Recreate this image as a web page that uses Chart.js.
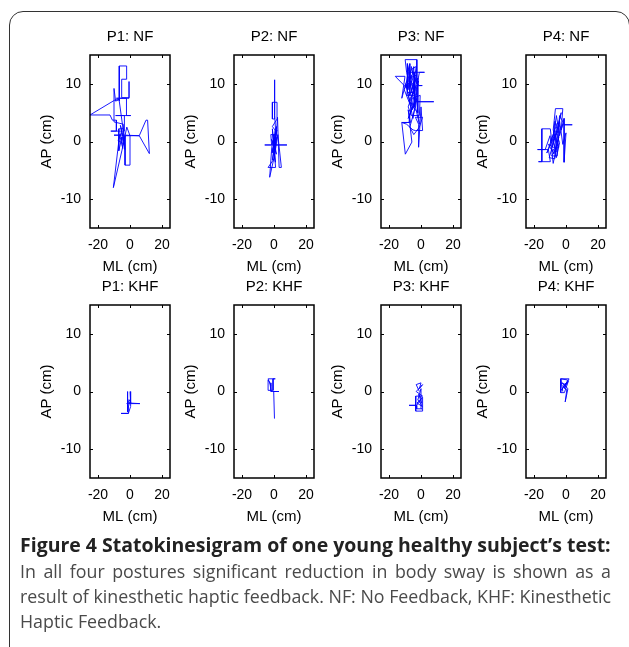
<!DOCTYPE html>
<html lang="en">
<head>
<meta charset="UTF-8" />
<title>Statokinesigram</title>
<script src="https://cdn.jsdelivr.net/npm/chart.js"></script>
<style>
  html, body { margin: 0; padding: 0; background: #fff; }
  body { width: 629px; height: 647px; position: relative; overflow: hidden; }
  .frame {
    position: absolute; left: 9px; top: 11px; width: 621px; height: 680px;
    border: 1.5px solid #333; border-radius: 14px; box-sizing: border-box;
  }
  canvas { position: absolute; }
  .caption {
    position: absolute; left: 20px; top: 531px;
    font-family: 'Open Sans', sans-serif; color: #4a4a4a; white-space: nowrap;
  }
  .caption div { line-height: 25px; font-size: 16px; }
  .caption .head { font-weight: bold; color: #222; line-height: 28px; }
</style>
</head>
<body>
  <div class="frame"></div>

  <!-- 8 sway plots -->
  <canvas id="c0" width="142" height="255"></canvas>
  <canvas id="c1" width="142" height="255"></canvas>
  <canvas id="c2" width="142" height="255"></canvas>
  <canvas id="c3" width="142" height="255"></canvas>
  <canvas id="c4" width="142" height="255"></canvas>
  <canvas id="c5" width="142" height="255"></canvas>
  <canvas id="c6" width="142" height="255"></canvas>
  <canvas id="c7" width="142" height="255"></canvas>

  <div class="caption">
    <div class="head">Figure 4 Statokinesigram of one young healthy subject’s test:</div>
    <div>In all four postures significant reduction in body sway is shown as a</div>
    <div>result of kinesthetic haptic feedback. NF: No Feedback, KHF: Kinesthetic</div>
    <div>Haptic Feedback.</div>
  </div>

<script>
  // ---- data (cm) ----
  const titles = ['P1: NF', 'P2: NF', 'P3: NF', 'P4: NF', 'P1: KHF', 'P2: KHF', 'P3: KHF', 'P4: KHF'];
  const xTicks = [-20, 0, 20];
  const yTicks = [-10, 0, 10];

  const p1nfX = [-4, -4, -7, -7, -5, -3.2, -4.2, -10, -10, -9, -6.5, -9.4, -25, -12.5, -11, -8.5, -8.5, -12, -3.5, -3.5, -9, 0.5, -2.2, -2.2, -8.5, -0.6, -0.6, -0.6, -5.2, -5.2, -2.1, -2.1, -6.7, -6.7, -4.5, -6, -10, -3, 5.8, 10, 11, 12.1, 5.8, -3.1, -3.1, 0, 0, -2, -5, -10.4, -6.5, -4.5, -5.5, -4, -6, -3.5, -7.5, -5];
  const p1nfY = [0, 2.2, 2.2, -1.6, 0.8, -1.4, 3, 3.4, 9.2, 7, 7.3, 7.2, 4.6, 4.6, 3.7, 3.7, 1.8, 1.8, 1.8, 4.5, 4.5, 4.5, 4.5, 7.5, 7.5, 7.5, 10.4, 7.6, 7.6, 10.8, 10.8, 13.1, 13.1, 7, 2.5, 1.1, 1.1, 1.1, 1, 3.7, 3.7, -2.1, 1, 1, -4.1, -4.1, 1, 2.5, -1.5, -8, 1.2, -1.2, 0.8, 0.5, 2.8, -0.5, 0.2, 1.5];

  const p2nfX = [0.5, 0.6, -1, 1.9, 1.9, -1, -1, 0.4, 0.4, 0.4, 1.2, -2, -1.5, -5.8, 8.1, 1, 2.2, 3.2, 4.6, 2.4, 0, -3.7, 1, -1, 0.2, -2.7, -1.4, 1.6, 0.4, -0.6, 1.3, -1, 1.1, -0.3, 2, 0.2, 0.6, -1.2, 1.8, -0.8, 0.9, -0.2, 1.5, -1.6, 0.3];
  const p2nfY = [0, 2, 2.6, 3.9, 6.8, 6.8, 3.9, 3.9, 10.7, 4.5, 1.2, 1.2, -0.6, -0.6, -0.6, -0.6, 4.2, -4.5, -4.5, 1.2, -3, -4.5, -4.5, 2.2, -2.6, -6.2, -1, 2.6, -1.6, 1.2, 0.2, -3.2, 1.6, -0.4, 0.8, -1.2, 0.3, -2, 2, -1.4, -3.6, 0.6, -2.2, 0.4, -0.8];

  const p3nfX = [-5, -7, -9, -9.9, -2.6, -2.6, -5, -5.7, 2.2, -1, -3, -6, -8, -16.1, -10, -12, -9, -7, -7, -4, -1, 0.8, -2, -4, -3.6, 8, -2, -5, -8, -6, -1, -0.5, -5.5, -7.5, -12, -6.5, -8, -5.7, -9.8, -12, -9, -5, -3.5, 1, 0, -1.5, -1.5, -3.5, 1, -1, -4.5, -7, -4, -6, -3, -7, -9, -4, -6, -10, -6, -3, -5,
                 -8.5, -8.5, -4.5, -4.5, -7, -2, -2, -6.5, -9.5, -5, -3, -1, -6, -8, -4, -4, -7.5, -1.5, -5.5, -10.5, -6, -2.5, -8, -5];
  const p3nfY = [8, 10, 12, 14.2, 14.2, 10, 12, 12, 12, 12, 9, 13, 9, 11.3, 11.3, 7.5, 10.5, 13.5, 8, 10.5, 9.7, 9.7, 9.7, 6, 6.9, 6.9, 6.9, 8.5, 6, 4.5, 4.5, 8, 7.5, 3.3, 3.3, 3.3, 5.5, -0.1, -2.2, 3.3, 3, 2, 1.9, 1.9, 6, -1, 3, 4.2, 4.2, 2.5, 1.2, 2.5, 5.5, 7.2, 11.5, 11, 8, 8, 10.5, 9.5, 12.5, 13, 9,
                 13.5, 8.5, 8.5, 13, 9.5, 11, 5, 6.5, 10, 4, 7.5, 3, 9, 12, 12, 6, 7, 10.5, 5.5, 9, 11.5, 8, 4, 6];

  const p4nfX = [-6, -8, -6.6, -2, -3, -2, 3.9, -1, -4, -5, -7, -8.5, -9.8, -15.1, -15.1, -17.2, -9.8, -11, -17.8, -13, -10, -8, -6, -7.5, -6, -4, -1.2, -1.2, 0, -2, -4, -5.5, -9, -5, -7, -3, -5, -8, -6,
                 -9, -4.5, -6.5, -10.5, -7, -3.5, -5.5, -12, -8, -6, -4, -7, -9.5, -5, -6.5, -11, -7.5, -4.5, -6];
  const p4nfY = [0, 2, 5.7, 5.7, 2, 2.9, 2.9, 2.9, 4.5, 1.5, 3.5, -1, 2.2, 2.2, -3.5, -3.5, -3.5, -1.4, -1.4, -1.4, 1, -3.8, -1, 1.5, 4.5, 1, 4, -3.6, 1.5, -0.5, 3.5, -2.5, -2.5, -0.5, 0.5, 5, 2.5, 0, -1.8,
                 -1.5, -1, 1, -2.8, -3, 2.5, 3.2, -2, 0.5, -2.8, -0.2, 2, 0, 1.8, -1.2, -0.5, -2.2, 0.8, -0.8];

  const p1khfX = [0, 0.4, 0.4, -1.5, -1.5, -1.5, -0.5, 6.2, -2, 0, -1.5, -1, -5.6, -1, 0.4, 0.4, -0.5];
  const p1khfY = [0, 0, -2, -1.8, 0, -3.5, -2, -2.1, -2.1, -1.5, -1.5, -3.8, -3.8, -3.8, -2.6, -1.8, -1.6];

  const p2khfX = [-2, -3.7, 0.8, -0.6, -0.6, -3.7, -3.7, -2.5, -1.9, 3.1, -0.5, -0.2, 0.3];
  const p2khfY = [1, 2.2, 2.2, 2.2, 0.2, 0.2, 2, 1.5, 0, 0, 0, 0.1, -4.7];

  const p3khfX = [-1, -3, 0, -1, 1, -3, 1, -3.3, -3.3, 1, 1, -2.7, -7.5, -2.7, -2.7, 0.5, 0, -2, 0.5, -1.5, 0.2, -2.5, 0.8, -1];
  const p3khfY = [0, 1.2, 1.5, 0.5, 1.2, 0, -0.8, -0.8, -3.4, -3.4, -1, -2.4, -2.4, -2.4, -3, -3, 0.5, -1.5, -2, -0.5, -1.2, -2, -2.6, -1.8];

  const p4khfX = [-2, -3.3, 1.9, -1, 1, -3.3, -3.3, -1, 1.5, -2, 0.5, -0.5, 1.2, -2.5, -0.5, -3, 0.8, -1.5];
  const p4khfY = [0, 2.2, 2.2, 0.5, 2, 2.2, -0.2, -0.2, 1.8, 1, 0.3, -1.8, 0.5, 1.5, 1.2, 0.2, 1.6, 0.8];

  const seriesX = [p1nfX, p2nfX, p3nfX, p4nfX, p1khfX, p2khfX, p3khfX, p4khfX];
  const seriesY = [p1nfY, p2nfY, p3nfY, p4nfY, p1khfY, p2khfY, p3khfY, p4khfY];

  // ---- layout ----
  const boxLefts = [90, 234, 381, 526];
  const boxTops = [55, 305];

  Chart.defaults.font.family = "'Liberation Sans', Arial, sans-serif";
  Chart.defaults.color = '#000';

  // matlab-style box with inward ticks
  const boxPlugin = {
    id: 'box',
    afterDraw(chart) {
      const { ctx, chartArea: a, scales: { x, y } } = chart;
      ctx.save();
      ctx.strokeStyle = '#000';
      ctx.lineWidth = 1.5;
      ctx.strokeRect(a.left, a.top, a.width, a.height);
      ctx.lineWidth = 1;
      ctx.beginPath();
      x.ticks.forEach(t => {
        const px = Math.round(x.getPixelForValue(t.value)) + 0.5;
        ctx.moveTo(px, a.bottom); ctx.lineTo(px, a.bottom - 3);
        ctx.moveTo(px, a.top); ctx.lineTo(px, a.top + 3);
      });
      y.ticks.forEach(t => {
        const py = Math.round(y.getPixelForValue(t.value)) + 0.5;
        ctx.moveTo(a.left, py); ctx.lineTo(a.left + 3, py);
        ctx.moveTo(a.right, py); ctx.lineTo(a.right - 3, py);
      });
      ctx.stroke();
      ctx.restore();
    }
  };

  for (let i = 0; i < 8; i++) {
    const canvas = document.getElementById('c' + i);
    canvas.style.left = (boxLefts[i % 4] - 52) + 'px';
    canvas.style.top = (boxTops[Math.floor(i / 4)] - 34) + 'px';

    const pts = seriesX[i].map((x, k) => ({ x: x, y: seriesY[i][k] }));

    new Chart(canvas, {
      type: 'scatter',
      data: {
        datasets: [{
          data: pts,
          showLine: true,
          borderColor: '#0000ff',
          borderWidth: 0.9,
          pointRadius: 0,
          tension: 0
        }]
      },
      options: {
        responsive: false,
        animation: false,
        layout: { padding: { top: 0, right: 10, left: 0, bottom: 0 } },
        plugins: {
          legend: { display: false },
          tooltip: { enabled: false },
          title: {
            display: true,
            fullSize: false,
            text: titles[i],
            color: '#000',
            font: { size: 15, weight: 'normal' },
            padding: { top: 7, bottom: 9 }
          }
        },
        scales: {
          x: {
            type: 'linear',
            min: -25, max: 25,
            afterBuildTicks: s => { s.ticks = xTicks.map(v => ({ value: v })); },
            afterFit: s => { s.height = 48; },
            grid: { display: false, drawTicks: false },
            border: { display: false },
            ticks: { color: '#000', font: { size: 14 }, padding: 9, maxRotation: 0 },
            title: { display: true, text: 'ML (cm)', color: '#000', font: { size: 15 }, padding: { top: 3, bottom: 0 } }
          },
          y: {
            type: 'linear',
            min: -15, max: 15,
            afterBuildTicks: s => { s.ticks = yTicks.map(v => ({ value: v })); },
            afterFit: s => { s.width = 52; },
            grid: { display: false, drawTicks: false },
            border: { display: false },
            ticks: { color: '#000', font: { size: 14 }, padding: 9 },
            title: { display: true, text: 'AP (cm)', color: '#000', font: { size: 15 }, padding: { top: 0, bottom: 0 } }
          }
        }
      },
      plugins: [boxPlugin]
    });
  }

  // fit caption lines to the column width (justified look)
  const lines = Array.from(document.querySelectorAll('.caption div'));
  const target = 591;
  const spans = lines.map(el => {
    const span = document.createElement('span');
    span.textContent = el.textContent;
    el.textContent = '';
    el.appendChild(span);
    return span;
  });
  const headFs = 16 * target / spans[0].getBoundingClientRect().width;
  lines[0].style.fontSize = headFs + 'px';
  const bodyFs = 16 * target / Math.max(spans[1].getBoundingClientRect().width, spans[2].getBoundingClientRect().width);
  for (let k = 1; k < lines.length; k++) lines[k].style.fontSize = bodyFs + 'px';
  [1, 2].forEach(k => {
    const w = spans[k].getBoundingClientRect().width;
    const gaps = (spans[k].textContent.match(/ /g) || []).length;
    if (gaps && w < target) lines[k].style.wordSpacing = ((target - w) / gaps) + 'px';
  });
</script>
</body>
</html>
